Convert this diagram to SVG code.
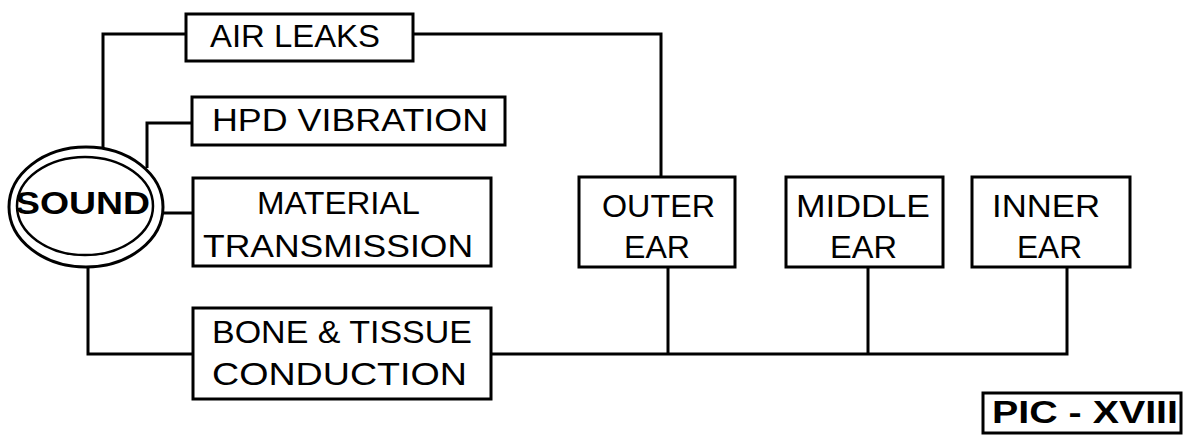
<svg xmlns="http://www.w3.org/2000/svg" width="1185" height="436" viewBox="0 0 1185 436">
<style>
.box{fill:#fff;stroke:#000;stroke-width:3}
.ln{fill:none;stroke:#000;stroke-width:3}
.t{font-family:"Liberation Sans",Arial,sans-serif;font-size:31px;fill:#000}
.b{font-family:"Liberation Sans",Arial,sans-serif;font-size:31px;font-weight:bold;fill:#000}
</style>
<rect width="1185" height="436" fill="#fff"/>
<g id="connectors">
<polyline class="ln" points="103,149 103,34 186,34"/>
<polyline class="ln" points="413,34 661,34 661,177"/>
<polyline class="ln" points="147,168 147,123 192,123"/>
<line class="ln" x1="162" y1="213" x2="193" y2="213"/>
<polyline class="ln" points="88,266 88,354 193,354"/>
<polyline class="ln" points="491,354 1067,354 1067,267"/>
<line class="ln" x1="668" y1="267" x2="668" y2="354"/>
<line class="ln" x1="868" y1="267" x2="868" y2="354"/>
</g>
<g id="sound">
<ellipse cx="86" cy="207" rx="77" ry="60" fill="#fff" stroke="#000" stroke-width="3"/>
<ellipse cx="85" cy="206" rx="68" ry="49" fill="none" stroke="#000" stroke-width="2.5"/>
<text class="b" x="15" y="214" textLength="135" lengthAdjust="spacingAndGlyphs">SOUND</text>
</g>
<g id="air-leaks">
<rect class="box" x="186" y="14" width="227" height="47"/>
<text class="t" x="210" y="47" textLength="170" lengthAdjust="spacingAndGlyphs">AIR LEAKS</text>
</g>
<g id="hpd-vibration">
<rect class="box" x="192" y="97" width="313" height="48"/>
<text class="t" x="212" y="131" textLength="276" lengthAdjust="spacingAndGlyphs">HPD VIBRATION</text>
</g>
<g id="material-transmission">
<rect class="box" x="193" y="178" width="298" height="88"/>
<text class="t" x="257" y="214" textLength="163" lengthAdjust="spacingAndGlyphs">MATERIAL</text>
<text class="t" x="203" y="257" textLength="270" lengthAdjust="spacingAndGlyphs">TRANSMISSION</text>
</g>
<g id="bone-tissue">
<rect class="box" x="193" y="308" width="298" height="91"/>
<text class="t" x="212" y="343" textLength="260" lengthAdjust="spacingAndGlyphs">BONE &amp; TISSUE</text>
<text class="t" x="212" y="385" textLength="255" lengthAdjust="spacingAndGlyphs">CONDUCTION</text>
</g>
<g id="outer-ear">
<rect class="box" x="579" y="177" width="156" height="90"/>
<text class="t" x="602" y="217" textLength="113" lengthAdjust="spacingAndGlyphs">OUTER</text>
<text class="t" x="624" y="258" textLength="66" lengthAdjust="spacingAndGlyphs">EAR</text>
</g>
<g id="middle-ear">
<rect class="box" x="786" y="177" width="157" height="90"/>
<text class="t" x="796" y="217" textLength="134" lengthAdjust="spacingAndGlyphs">MIDDLE</text>
<text class="t" x="830" y="258" textLength="67" lengthAdjust="spacingAndGlyphs">EAR</text>
</g>
<g id="inner-ear">
<rect class="box" x="972" y="177" width="158" height="90"/>
<text class="t" x="992" y="217" textLength="108" lengthAdjust="spacingAndGlyphs">INNER</text>
<text class="t" x="1017" y="258" textLength="65" lengthAdjust="spacingAndGlyphs">EAR</text>
</g>
<g id="pic-label">
<rect class="box" x="983" y="393" width="198" height="40"/>
<text class="b" x="992" y="423" textLength="186" lengthAdjust="spacingAndGlyphs">PIC - XVIII</text>
</g>
</svg>
